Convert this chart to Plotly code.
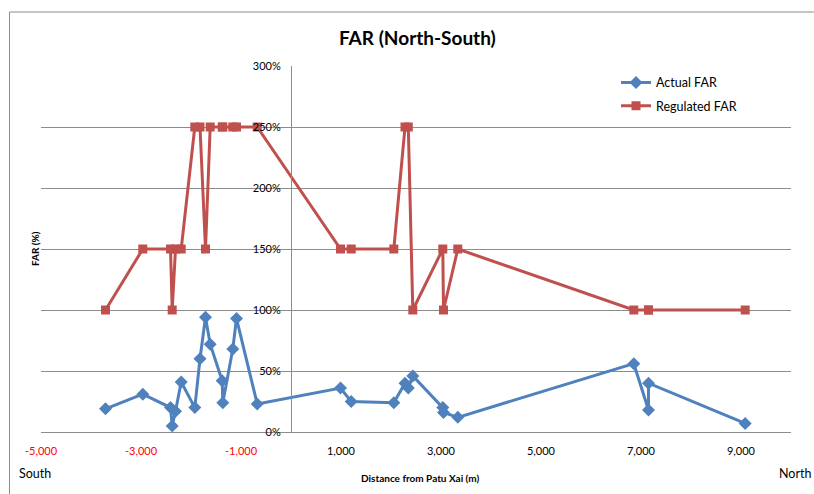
import plotly.graph_objects as go

# Distance from Patu Xai (m), negative = south, positive = north
distance = [-3710, -2964, -2410, -2376, -2310, -2196, -1924, -1820, -1710, -1616,
            -1376, -1364, -1164, -1090, -676, 990, 1204, 2056, 2280, 2346,
            2436, 3036, 3050, 3336, 6856, 7150, 7150, 9084]

# Floor area ratio (%)
actual_far = [19, 31, 20, 5, 17, 41, 20, 60, 94, 72,
              42, 24, 68, 93, 23, 36, 25, 24, 40, 36,
              46, 20, 16, 12, 56, 18, 40, 7]
regulated_far = [100, 150, 150, 100, 150, 150, 250, 250, 150, 250,
                 250, 250, 250, 250, 250, 150, 150, 150, 250, 250,
                 100, 150, 100, 150, 100, 100, 100, 100]

x_ticks = [-5000, -3000, -1000, 1000, 3000, 5000, 7000, 9000]

FONT = "Lato, Carlito, Calibri, Liberation Sans, sans-serif"
BLUE = "#4F81BD"
RED = "#C0504D"
GRID = "#8C8C8C"

L, R, T, B = 41, 23, 66, 62
PW = 814 - L - R
PH = 494 - T - B


def px_x(px):
    return (px - L) / PW


def px_y(py):
    return (494 - B - py) / PH


def tick_label(v):
    s = f"{v:,}"
    return f'<span style="color:#FF0000">{s}</span>' if v < 0 else s


fig = go.Figure()
fig.add_trace(go.Scatter(
    x=distance, y=actual_far, name="Actual FAR", mode="lines+markers",
    line=dict(color=BLUE, width=3),
    marker=dict(symbol="diamond", size=10, color=BLUE),
    legendgroup="a",
))
fig.add_trace(go.Scatter(
    x=distance, y=regulated_far, name="Regulated FAR", mode="lines+markers",
    line=dict(color=RED, width=3),
    marker=dict(symbol="square", size=9, color=RED),
    legendgroup="r",
))

fig.update_layout(
    width=814, height=494,
    margin=dict(l=L, r=R, t=T, b=B),
    paper_bgcolor="white", plot_bgcolor="white",
    font=dict(family=FONT, size=11, color="#000000"),
    showlegend=True,
    legend=dict(x=px_x(616), y=0.995, xanchor="left", yanchor="top",
                font=dict(size=12.5), tracegroupgap=4,
                bgcolor="rgba(0,0,0,0)"),
    xaxis=dict(range=[-5000, 10000], tickvals=x_ticks,
               ticktext=[tick_label(v) for v in x_ticks],
               showgrid=False, zeroline=False, showline=False,
               ticks="outside", ticklen=9, tickcolor="rgba(0,0,0,0)",
               tickfont=dict(size=11)),
    yaxis=dict(range=[0, 300], dtick=50, ticksuffix="%",
               anchor="free", position=5000 / 15000,
               showgrid=True, gridcolor=GRID, gridwidth=1,
               zeroline=True, zerolinecolor=GRID, zerolinewidth=1,
               showline=True, linecolor=GRID, linewidth=1,
               ticks="", ticklabelstandoff=8, tickfont=dict(size=11)),
    annotations=[
        dict(text="<b>FAR (North-South)</b>", x=px_x(417), y=px_y(38), xref="paper",
             yref="paper", xanchor="center", yanchor="middle", showarrow=False,
             font=dict(size=19)),
        dict(text="<b>Distance from Patu Xai (m)</b>", x=px_x(420), y=px_y(478),
             xref="paper", yref="paper", xanchor="center", yanchor="middle",
             showarrow=False, font=dict(size=10)),
        dict(text="<b>FAR (%)</b>", x=px_x(35), y=0.5, xref="paper", yref="paper",
             xanchor="center", textangle=-90, showarrow=False, font=dict(size=10)),
        dict(text="South", x=px_x(35), y=px_y(474), xref="paper", yref="paper",
             xanchor="center", yanchor="middle", showarrow=False, font=dict(size=12.5)),
        dict(text="North", x=px_x(795), y=px_y(474), xref="paper", yref="paper",
             xanchor="center", yanchor="middle", showarrow=False, font=dict(size=12.5)),
    ],
    shapes=[
        dict(type="line", xref="paper", yref="paper", x0=px_x(9.5), x1=px_x(9.5),
             y0=px_y(500), y1=px_y(12), line=dict(color="#8C8C8C", width=1)),
        dict(type="line", xref="paper", yref="paper", x0=px_x(9.5), x1=px_x(820),
             y0=px_y(12), y1=px_y(12), line=dict(color="#8C8C8C", width=1)),
    ],
)

fig.write_html("out.html")
